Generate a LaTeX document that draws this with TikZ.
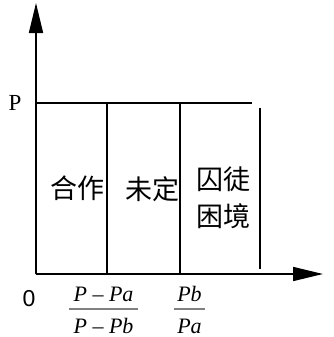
\documentclass[tikz,border=0pt]{standalone}
\usepackage{fontspec}
\setmainfont{Liberation Serif}
\newfontfamily\cjk{Noto Sans CJK SC}
\newfontfamily\sansf{Liberation Sans}
\usetikzlibrary{arrows.meta}
\begin{document}
\begin{tikzpicture}[x=1bp,y=-1bp,
  axis/.style={line width=1.7bp,-{Triangle[length=30bp,width=14bp]}},
  ln/.style={line width=1.7bp},
  cn/.style={font=\cjk\fontsize{27bp}{37bp}\selectfont,inner sep=0pt,align=center},
  fr/.style={font=\fontsize{22bp}{24bp}\selectfont\itshape,inner sep=0pt,anchor=base,text depth=0pt},
  bar/.style={line width=1.2bp,draw=gray}]
\useasboundingbox (0,0) rectangle (334,337);
\coordinate (O) at (36,274);
\coordinate (ytip) at (36,3);
\coordinate (xtip) at (323,274);
\coordinate (pl) at (36,102.7);
\coordinate (pr) at (252,102.7);
\coordinate (a1) at (107.3,102.7);
\coordinate (a0) at (107.3,274);
\coordinate (b1) at (180,102.7);
\coordinate (b0) at (180,274);
\coordinate (c1) at (259.7,107.7);
\coordinate (c0) at (259.7,269.3);
\draw[axis] (O) -- (ytip);
\draw[axis] (O) -- (xtip);
\draw[ln] (pl) -- (pr);
\draw[ln] (a1) -- (a0);
\draw[ln] (b1) -- (b0);
\draw[ln] (c1) -- (c0);
\node[font=\fontsize{23bp}{24bp}\selectfont,inner sep=0pt,anchor=base] (lp) at (15,110) {P};
\node[font=\sansf\fontsize{23bp}{24bp}\selectfont,inner sep=0pt,anchor=base] (l0) at (29,306.5) {0};
\node[fr] (n1) at (103.5,301.7) {P – Pa};
\node[fr] (d1) at (103.5,333.5) {P – Pb};
\coordinate (f1l) at (69,309);
\coordinate (f1r) at (138,309);
\draw[bar] (f1l) -- (f1r);
\node[fr] (n2) at (189.5,301.7) {Pb};
\node[fr] (d2) at (189.5,333.5) {Pa};
\coordinate (f2l) at (174,309);
\coordinate (f2r) at (205,309);
\draw[bar] (f2l) -- (f2r);
\node[cn] (t1) at (77.5,188) {合作};
\node[cn] (t2) at (152.5,189) {未定};
\node[cn] (t3) at (223,197.5) {囚徒\\困境};
\end{tikzpicture}
\end{document}
